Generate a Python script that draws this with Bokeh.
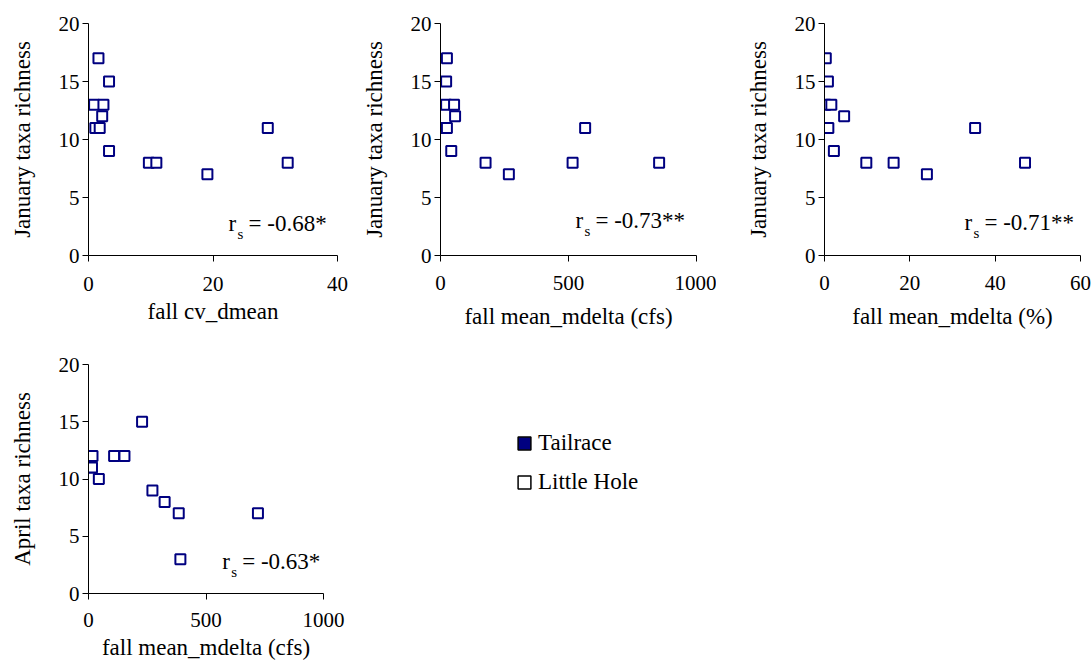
from bokeh.plotting import figure
from bokeh.models import Range1d, FixedTicker, Label, Legend, LegendItem, ColumnDataSource
from bokeh.layouts import row, column
from bokeh.embed import file_html
from bokeh.resources import INLINE

FONT = "Liberation Serif"
NAVY = "#000080"
TICK_FS = "21px"
TITLE_FS = "23px"
NAN = float("nan")

# Little Hole: fall flow metrics against taxa richness
cv_dmean = [1.6, 3.3, 0.9, 2.4, 2.2, 1.1, 1.8, 3.3, 9.7, 10.9, 19.1, 28.8, 32.0]
jan_rich_a = [17, 15, 13, 13, 12, 11, 11, 9, 8, 8, 7, 11, 8]

mdelta_cfs = [25, 22, 22, 53, 57, 15, 25, 42, 176, 267, 516, 565, 854]
jan_rich_b = [17, 15, 13, 13, 12, 11, 11, 9, 8, 7, 8, 11, 8]

mdelta_pct = [0.3, 0.8, 0.2, 1.6, 4.6, 0.2, 0.9, 2.2, 9.8, 16.2, 24.0, 35.3, 47.0]
jan_rich_c = [17, 15, 13, 13, 12, 11, 11, 9, 8, 8, 7, 11, 8]

apr_mdelta_cfs = [228, 17, 109, 153, 8, 15, 44, 272, 324, 384, 721, 391]
apr_rich = [15, 12, 12, 12, 11, 11, 10, 9, 8, 7, 7, 3]

# Tailrace has no observations on these axes
tailrace_x = [NAN]
tailrace_y = [NAN]

y_ticks = [0, 5, 10, 15, 20]
x_ticks_cv = [0, 20, 40]
x_ticks_cfs = [0, 500, 1000]
x_ticks_pct = [0, 20, 40, 60]

rs_values = ["-0.68*", "-0.73**", "-0.71**", "-0.63*"]
legend_labels = ["Tailrace", "Little Hole"]


def panel(x, y, xmax, xticks, xlabel, ylabel, rs, rs_at, size, borders,
          tick_standoff, title_standoff):
    width, height = size
    left, right, top, bottom = borders
    p = figure(width=width, height=height, output_backend="svg",
               toolbar_location=None, x_range=Range1d(0, xmax),
               y_range=Range1d(0, 20), min_border_left=left,
               min_border_right=right, min_border_top=top,
               min_border_bottom=bottom)
    p.outline_line_color = None
    p.xgrid.visible = False
    p.ygrid.visible = False

    p.xaxis.ticker = FixedTicker(ticks=xticks)
    p.yaxis.ticker = FixedTicker(ticks=y_ticks)
    for ax in (p.xaxis[0], p.yaxis[0]):
        ax.axis_line_color = "black"
        ax.axis_line_width = 1
        ax.major_tick_line_color = "black"
        ax.major_tick_in = 0
        ax.major_tick_out = 6
        ax.minor_tick_line_color = None
        ax.major_label_text_font = FONT
        ax.major_label_text_font_size = TICK_FS
        ax.major_label_text_color = "black"
        ax.axis_label_text_font = FONT
        ax.axis_label_text_font_size = TITLE_FS
        ax.axis_label_text_font_style = "normal"
        ax.axis_label_text_color = "black"
    p.xaxis.major_label_standoff = tick_standoff
    p.yaxis.major_label_standoff = 3
    p.xaxis.axis_label = xlabel
    p.yaxis.axis_label = ylabel
    p.xaxis.axis_label_standoff = title_standoff
    p.yaxis.axis_label_standoff = 21

    src = ColumnDataSource(dict(x=x, y=y))
    p.scatter("x", "y", source=src, marker="square", size=10,
              fill_color="white", line_color=NAVY, line_width=2)

    # Spearman coefficient, r with subscript s
    tx, ty = rs_at
    p.add_layout(Label(x=tx, y=ty, y_offset=-3, text="r", text_font=FONT,
                       text_font_size=TITLE_FS, text_color="black"))
    p.add_layout(Label(x=tx, y=ty, x_offset=9, y_offset=-9, text="s",
                       text_font=FONT, text_font_size="15px",
                       text_color="black"))
    p.add_layout(Label(x=tx, y=ty, x_offset=20, y_offset=-3, text="= " + rs,
                       text_font=FONT, text_font_size=TITLE_FS,
                       text_color="black"))
    return p


p1 = panel(cv_dmean, jan_rich_a, 40, x_ticks_cv, "fall cv_dmean",
           "January taxa richness", rs_values[0], (22.5, 1.9),
           (355, 336), (88, 18, 23, 81), 15, 5)
p2 = panel(mdelta_cfs, jan_rich_b, 1000, x_ticks_cfs, "fall mean_mdelta (cfs)",
           "January taxa richness", rs_values[1], (527, 2.2),
           (361, 336), (85, 20, 18, 81), 14, 11)
p3 = panel(mdelta_pct, jan_rich_c, 60, x_ticks_pct, "fall mean_mdelta (%)",
           "January taxa richness", rs_values[2], (32.8, 2.0),
           (376, 336), (108, 12, 18, 81), 14, 11)
p4 = panel(apr_mdelta_cfs, apr_rich, 1000, x_ticks_cfs, "fall mean_mdelta (cfs)",
           "April taxa richness", rs_values[3], (569, 2.0),
           (350, 332), (88, 27, 28, 75), 13, 5)

# legend panel (its frame lines up with the April panel's frame)
pl = figure(width=742, height=332, output_backend="svg", toolbar_location=None,
            x_range=Range1d(0, 1), y_range=Range1d(0, 1),
            x_axis_type=None, y_axis_type=None, min_border=0,
            min_border_left=100)
pl.outline_line_color = None
pl.xgrid.visible = False
pl.ygrid.visible = False
tail_src = ColumnDataSource(dict(x=tailrace_x, y=tailrace_y))
r_tail = pl.rect("x", "y", width=1, height=1, source=tail_src,
                 fill_color=NAVY, line_color="black", line_width=1.5)
r_lh = pl.rect("x", "y", width=1, height=1, source=tail_src,
               fill_color="white", line_color="black", line_width=1.5)
leg = Legend(items=[LegendItem(label=legend_labels[0], renderers=[r_tail]),
                    LegendItem(label=legend_labels[1], renderers=[r_lh])],
             location="top_left", margin=66, glyph_width=16, glyph_height=16,
             label_height=16, spacing=13, padding=0, label_standoff=6,
             border_line_color=None, background_fill_alpha=0,
             label_text_font=FONT, label_text_font_size=TITLE_FS,
             label_text_color="black")
pl.add_layout(leg)

layout = column(row(p1, p2, p3), row(p4, pl))
open("out.html", "w").write(file_html(layout, INLINE))
